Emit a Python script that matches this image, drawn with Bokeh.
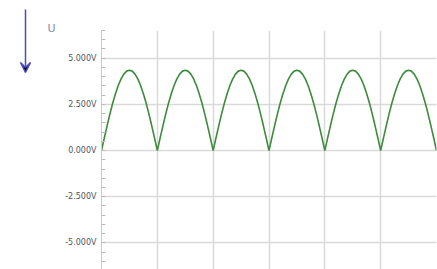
from bokeh.plotting import figure
from bokeh.models import Range1d, FixedTicker, Arrow, VeeHead
from bokeh.layouts import row, column
from bokeh.core.properties import value
from bokeh.embed import file_html
from bokeh.resources import INLINE

# --- data ---
# full-wave rectified voltage, sampled every 0.5 ms (6 half-cycles of 10 ms)
volts = [
    0.00, 0.68, 1.34, 1.97, 2.56, 3.08, 3.52, 3.88, 4.14, 4.30, 4.35, 4.30, 4.14, 3.88, 3.52, 3.08, 2.56, 1.97, 1.34, 0.68,
    0.00, 0.68, 1.34, 1.97, 2.56, 3.08, 3.52, 3.88, 4.14, 4.30, 4.35, 4.30, 4.14, 3.88, 3.52, 3.08, 2.56, 1.97, 1.34, 0.68,
    0.00, 0.68, 1.34, 1.97, 2.56, 3.08, 3.52, 3.88, 4.14, 4.30, 4.35, 4.30, 4.14, 3.88, 3.52, 3.08, 2.56, 1.97, 1.34, 0.68,
    0.00, 0.68, 1.34, 1.97, 2.56, 3.08, 3.52, 3.88, 4.14, 4.30, 4.35, 4.30, 4.14, 3.88, 3.52, 3.08, 2.56, 1.97, 1.34, 0.68,
    0.00, 0.68, 1.34, 1.97, 2.56, 3.08, 3.52, 3.88, 4.14, 4.30, 4.35, 4.30, 4.14, 3.88, 3.52, 3.08, 2.56, 1.97, 1.34, 0.68,
    0.00, 0.68, 1.34, 1.97, 2.56, 3.08, 3.52, 3.88, 4.14, 4.30, 4.35, 4.30, 4.14, 3.88, 3.52, 3.08, 2.56, 1.97, 1.34, 0.68,
    0.00,
]
sample_step_ms = 0.5
time_ms = [i * sample_step_ms for i in range(len(volts))]

y_ticks = [-5.0, -2.5, 0.0, 2.5, 5.0]
y_minor = [-6.5 + 0.5 * i for i in range(27)]
y_tick_labels = {-5.0: "-5.000V", -2.5: "-2.500V", 0.0: "0.000V", 2.5: "2.500V", 5.0: "5.000V"}
x_grid = [10, 20, 30, 40, 50, 60]
axis_title = "U"

# ---- left strip with the direction arrow and the quantity symbol ----
side = figure(width=60, height=269, output_backend="svg", toolbar_location=None, title=None,
              x_range=Range1d(0, 60), y_range=Range1d(269, 0),
              min_border_left=0, min_border_right=0, min_border_top=0, min_border_bottom=0)
side.axis.visible = False
side.grid.visible = False
side.outline_line_color = None
side.add_layout(Arrow(x_start=25, y_start=9, x_end=25, y_end=72,
                      line_color="#4a4ac4", line_width=1.5,
                      end=VeeHead(size=10, line_color="#4a4ac4", line_width=1.5)))
side.text(x=[47], y=[21], text=[axis_title], text_font=value("DejaVu Sans"),
          text_font_size="11px", text_color="#8a8aa8", text_baseline="top")

# ---- main chart ----
p = figure(width=377, height=269, output_backend="svg", toolbar_location=None, title=None,
           x_range=Range1d(0, 60), y_range=Range1d(-6.44, 6.5),
           min_border_left=41, min_border_right=1, min_border_top=30, min_border_bottom=0)
p.xaxis.visible = False
p.outline_line_color = None

p.xgrid.ticker = FixedTicker(ticks=x_grid)
p.ygrid.ticker = FixedTicker(ticks=y_ticks)
for g in (p.xgrid, p.ygrid):
    g.grid_line_color = "#d9d9d9"
    g.grid_line_width = 1.5

ya = p.yaxis[0]
ya.ticker = FixedTicker(ticks=y_ticks, minor_ticks=y_minor)
ya.major_label_overrides = y_tick_labels
ya.major_label_text_font = "DejaVu Sans"
ya.major_label_text_font_size = "8px"
ya.major_label_text_color = "#555555"
ya.major_label_standoff = 5
ya.axis_line_color = "#cccccc"
ya.major_tick_in = 0
ya.major_tick_out = 0
ya.minor_tick_in = 4
ya.minor_tick_out = 0
ya.minor_tick_line_color = "#bbbbbb"

p.line(time_ms, volts, line_color="#3d8b3d", line_width=1.6)

layout = row(column(side), column(p), spacing=0)
open("out.html", "w").write(file_html(layout, INLINE))
